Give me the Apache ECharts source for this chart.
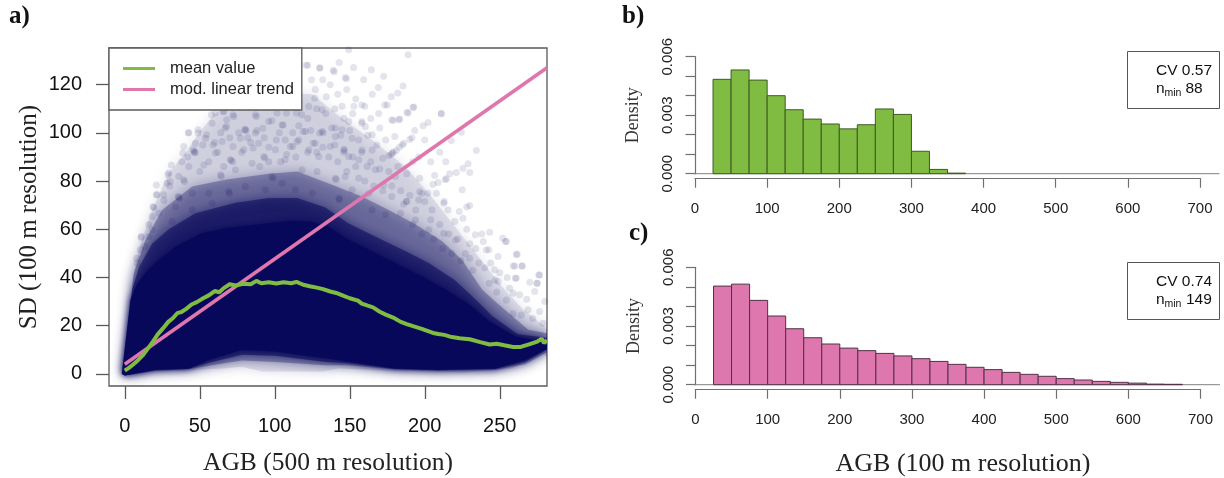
<!DOCTYPE html>
<html><head><meta charset="utf-8">
<style>html,body{margin:0;padding:0;background:#fff}#c{width:1224px;height:478px}</style>
<script src="https://cdn.jsdelivr.net/npm/echarts@6/dist/echarts.min.js"></script>
</head><body><div id="c"></div>
<script>
const navy='#08085a', green='#7FBC41', pink='#DE77AE', axisGray='#5a5a5a';
const sansFont='"Liberation Sans",Arial,sans-serif', serifFont='"Liberation Serif","Times New Roman",serif';

// panel a: mean value curve
const meanValue=[[0,1.4],[3,2.6],[5.6,3.9],[9,5.8],[12.3,7.9],[16,11],[19,13.6],[22,16.4],[25.6,19],[29,21.6],[32.2,23.2],[35,25.2],[37.8,25.7],[41,27],[44.5,28.8],[48,29.8],[52.3,31.4],[56,32.6],[60,34.4],[63,33.9],[66,35.6],[70,37.2],[74,36.7],[79,37.4],[84,37.2],[87.8,38.6],[91,37.6],[96,38],[101,37.5],[106,38],[111,37.6],[114.5,38.2],[119,37],[123.3,36.4],[128,35.8],[132.2,35.2],[137,34.2],[141,33.6],[145.5,32.5],[150,31.4],[155.5,30.4],[158,29.2],[162,28.3],[165.5,27.6],[170,25.8],[174,24.6],[178.9,23.4],[184,21.6],[188,20.7],[192.2,19.8],[198,18.7],[205.5,17],[209,16.6],[213,16.2],[218,15.3],[223.3,14.8],[230,14.4],[237,13.2],[243.3,12.2],[248,12.5],[253,11.9],[258.9,11.2],[264,11.2],[270,12.4],[275,13.4],[278,14.6],[279.5,12.8],[281.5,14]];
const linearTrend=[[0,4],[281.5,127]];

// panel a: outlines of the point cloud at decreasing density
const cloudFaint=[[-2,0],[4.9,37.6],[9.3,51.5],[18.2,68],[29.3,83.3],[40.4,91.6],[49.3,99.9],[60.4,108.2],[80,114],[100,117],[125,116],[145,106],[165,97],[187,86],[202.7,75],[220.4,61],[238,47],[251.6,36.2],[265,27],[281.5,19],[281.5,7],[278,8.6],[258,2.3],[225,.6],[209,1],[176,1.4],[142.7,2.3],[131.6,1],[107,1],[91.5,1],[78,3],[64.9,2.3],[42.7,1.5],[20.4,1],[0,-.8]];
const cloudMid=[[-1,0],[6,41.8],[13.8,55.6],[24.9,68],[44.9,77.7],[67,80.5],[96,83],[115,84],[136,79],[158,73.6],[176,68],[194,62],[211.6,55],[224.9,47.3],[238.2,35],[247,30],[269,18.3],[281.5,16.9],[281.5,9],[267,4],[247,1.6],[209,1.3],[180,1.8],[149,3.6],[133.8,3.6],[100.4,5],[78.2,5.6],[56,3.4],[42.7,1.9],[20.4,1.3],[0,-.6]];
const cloudDense=[[-1,0],[5,35],[9.3,44],[18.2,54],[29.3,60],[47,66.7],[73.8,71],[96,73],[115,73],[133.8,69],[149,62.5],[167,57],[187,51],[202.7,46],[220,39],[233.8,31],[245,24],[262,16.5],[281.5,15],[281.5,10],[267,5],[247,2],[209,1.5],[180,2],[149,4.4],[133.8,5],[100.4,7.5],[78.2,8],[56,4.6],[42.7,2.1],[20.4,1.5],[0,-.6]];
const cloudSolid=[[-2,0],[3.8,30.7],[8,37],[13.8,41.8],[22.7,47.3],[33.8,52.8],[51.6,58.4],[67,60.4],[89,62],[111.6,63.5],[125,63],[136,61],[149.3,55.6],[162.7,51.5],[180.4,45.9],[198,40.4],[213.8,35],[229,29],[242.7,22],[260.4,15.5],[273.8,14],[281.5,13.4],[281.5,10.5],[267,5.8],[247,2.3],[209,1.7],[180,2.3],[149,5.1],[133.8,6.5],[100.4,9.3],[78.2,10],[56,5.8],[42.7,2.3],[20.4,1.7],[0,-.6]];

// panel a: individually visible points
const loosePoints=[[188.9,132.4],[149.3,134.5],[142.9,129.2],[152.6,127.1],[164.4,126.2],[172.6,123.5],[130,127],[122,128],[139,126],[139.6,125.3],[147,123],[147.8,122.4],[159.3,122],[185.5,119.4],[169,118.8],[165,116],[182,116.5],[177.7,115],[173.3,111.6],[192.2,110.5],[188.2,108.5],[211,108],[183.3,105.8],[178.9,105.1],[202.2,104.3],[198.9,103],[193.3,101],[191.5,98],[190,97.2],[186,95.7],[185,95],[180,98.5],[181,92.7],[179,92],[178.4,91.6],[177.5,91],[176,90.5],[183,94],[172,89.5],[224.4,100.3],[217.7,96.8],[200,97],[234.4,92.7],[228.9,87.2],[225.5,85.3],[230,83.6],[221,83.6],[216.6,83],[214.4,81],[213.6,80.5],[208.9,79.4],[205.5,78.7],[206.6,82.3],[196.6,81.2],[225,76.4],[196.6,75.7],[198,74.8],[202,75],[207.8,75],[200,71.5],[213,71.5],[230,69.9],[228,69.2],[223,67.4],[215.5,68],[187.7,71.5],[186,70.5],[225.5,64.6],[220,63.2],[243.3,58.8],[252,56.3],
[261,49.4],[260,44.8],[264.9,44.8],[254.4,54.9],[248.9,48.7],[246.6,43.2],[261,39.7],[276.6,41],[274.9,37.6],[248.9,38.3],[256.6,35.5],[273.3,34.2],[263.3,32.8],[258.9,33.5],[254.4,30.7],[268.9,26.6],[276.6,25.9],[264.4,24.5],[272,23],[278.9,21],[258.9,25],[241,51.4],[243,37.6],[230,54],[236,46],[232,43],[238,58],
[121,128],[130,126.8],[124.5,122],[132,122],[126.7,114.4],[134.4,115],[65.6,108.9],[72.2,107.5],[57.8,107.5],[87.8,106.8],[107.8,108.2],[114.5,108.2],[42.3,99.9],[48.9,99.9],[54.5,99.2],[67.8,102.6],[80,101.3],[92,101.9],[105.6,103.3],[118.9,100.6],[130,99.9],[31,86.7],[45.6,93],[58.9,95],[72.2,94.3],[85.6,93.7],[101,97],[112,94.3],[125.6,95.7],[28.9,82.6],[21,74.3],[18.9,69.4],[21,78.4],[11,57],[35.6,73.6],
[127,118],[137,120],[142,116],[148,118],[154,114],[160,111],[128,110],[134,108],[140,110],[146,106],[152,108],[158,104],[164,106],[170,102],[122,106],[116,103],[124,101],[138,102],[144,99],[150,101],[156,97],[162,99],[168,95],[174,97],[112,100],[98,105],[103,100],[93,98],[88,101],[82,98],[76,100],[70,98],[64,100],[60,96],[52,95],[47,92],[38,88],[42,90],[78,92],[84,96],[96,94],[108,91],[116,97],[132,94],[136,90],[140,95],[146,92],[152,90],[158,92],[164,88],[170,85],[176,84],[182,86],[188,83],[192,88],[196,90],[204,88],[210,92],[214,88],[194,68],[204,64],[210,62],[216,58],[222,56],[228,60],[234,52],[192,62],[198,58],[206,56],[212,52],[218,50],[224,47],[230,48],[244,46],[250,42],[255,40],[240,44],[248,34],[268,31],[280,30],[270,38],[154,86],[160,80],[166,78],[172,76],[178,78],[184,76],[190,74],[148,84],[142,88],[128,92],[122,92],[114,90],[104,88],[96,88],[90,86],[72,88],[66,86],[56,88],[62,92],[26,72],[30,78],[36,82],[50,84],[16,62],[8,48],
[42.7,100.1],[48.9,101.3],[47,95.7],[53.8,97.8],[60.4,108.2],[66,108.9],[72.7,106.8],[58.2,104],[67,102],[80.4,101.5],[80.9,100.9],[87.1,99.9],[96,104.7],[104.9,103.3],[118,107.5],[131.6,100.6],[132.2,100],[120.4,100.6],[107,97],[114.9,96.4],[127,95.7],[46,92.3],[46.6,91.8],[39.3,94.3],[38.7,91.6],[60.4,91.6],[70.4,89],[70.9,88.5],[79.3,93],[92.7,90.2],[93.3,89.6],[107,88.8],[64.9,96.4],[77.1,97.8],[89.3,95.7],[29.3,83.3],[30.4,79.8],[39.3,80.5],[39.8,79.8],[36,73.3],[36.5,72.8],[42.7,86],[52.7,86.7],[63.8,82.6],[64.4,82],[73.8,84.7],[84.9,87.4],[98.2,81.9],[98.8,81.3],[118.2,84.7],[128.2,84],[21.6,74.3],[19.3,69],[18.2,65.3],[26,74.3],[28.2,79.1],[10.9,56.6],[16,57],[10.4,51.5],[8.2,46],[44.9,75],[56,75],[69.3,75.7],[69.8,75],[80.4,77.7],[93.8,76.4],[104.9,79.1],[113.8,76.4],[124.9,75],[33.8,69.4],[44.9,68],[58.2,70.8],[22.7,66.7],[31.5,63.2],[18.2,59.8],[13.3,52.9],[129.3,90.2],[122.7,93],[100.4,93],[110.4,94.3],[68,105.4],[87.1,107.5],[101.5,108.2],[122.7,110.9],[131.6,109.6],
[144.9,111],[152.7,111],[158,111.6],[175,111.6],[169.3,108],[182.7,105.4],[178,105.4],[188.9,108.2],[192.7,110.7],[211,107.9],[158.2,104.7],[149.3,104.7],[140.4,102],[144.9,101.3],[160.4,102.6],[164.9,99.2],[151.6,97.8],[140.4,98.5],[146,93.2],[146.5,92.7],[158.2,92.9],[164.9,92.9],[137,94.3],[149.3,90.2],[156,88.8],[161.6,86],[167,84.7],[140.4,81.2],[140.9,80.7],[147,81.9],[156,81.2],[142.7,72.9],[143.2,72.4],[151.6,76.4],[162.7,75],[172.7,78.4],[180.4,81.9],[188,71.5],[178,73.6],[164.9,68],[173.8,66],[183.8,66.7],[196,72.2],[204.9,68],[212.7,70.8],[193.8,63.9],[202.7,59.8],[212.7,58.4],[220.4,55.6],[227,50],[242.7,51.5],[239,54.9],[233.8,57.7],[247,39],[253.8,54.9],[261.6,49.8],[259,44.8],[264.9,44.8],[260.4,39.7],[276,41],[274.9,37.6]];

// panels b and c: histogram bins
const binStarts=[25,50,75,100,125,150,175,200,225,250,275,300,325,350,375,400,425,450,475,500,525,550,575,600,625,650];
const densityB=[.00484,.00532,.0048,.0040,.00328,.0028,.00255,.0023,.00251,.00332,.00304,.00115,.00022,.00003];
const densityC=[.00504,.00514,.00431,.00351,.00286,.0024,.00208,.00187,.00174,.0016,.00147,.00133,.00119,.00104,.00089,.00077,.00063,.00053,.00043,.00031,.00024,.00017,.00012,.00008,.00003,.00002];

const xTicksA=[0,50,100,150,200,250], yTicksA=[0,20,40,60,80,100,120];
const yLabelsHist=[0,.003,.006];

function cloud(outline,opacity,blur){
  return {type:'custom',coordinateSystem:'cartesian2d',xAxisIndex:0,yAxisIndex:0,silent:true,clip:true,z:2,
    data:outline,encode:{x:0,y:1},
    renderItem:(p,api)=>p.dataIndex?null:{type:'polygon',shape:{points:outline.map(d=>api.coord(d))},
      style:{fill:navy,opacity,shadowBlur:blur,shadowColor:navy}}
  };
}
function hist(idx,values,color,edge){
  return {type:'custom',coordinateSystem:'cartesian2d',xAxisIndex:idx,yAxisIndex:idx,silent:true,z:3,
    data:values.map((v,i)=>[binStarts[i],binStarts[i]+25,v]),encode:{x:[0,1],y:2},
    renderItem:(p,api)=>{
      const a=api.coord([api.value(0),api.value(2)]),b=api.coord([api.value(1),0]);
      return {type:'rect',shape:{x:a[0],y:a[1],width:b[0]-a[0],height:b[1]-a[1]},style:{fill:color,stroke:edge,lineWidth:1}};
    }};
}
function baseline(idx){
  return {type:'custom',coordinateSystem:'cartesian2d',xAxisIndex:idx,yAxisIndex:idx,silent:true,z:2,
    data:[[0,0]],encode:{x:0,y:1},
    renderItem:(p,api)=>{const a=api.coord([-2,0]),b=api.coord([727,0]);
      return {type:'line',shape:{x1:a[0],y1:a[1],x2:b[0],y2:b[1]},style:{stroke:'#808080',lineWidth:1}};}};
}
const tickStyle={color:axisGray,width:1.3};
function histX(idx,extra){
  return Object.assign({type:'value',gridIndex:idx,min:0,max:700,interval:100,offset:4.5,
    axisLine:{show:true,onZero:false,lineStyle:{color:'#707070',width:1.2}},
    axisTick:{show:true,length:9.5,lineStyle:{color:'#707070',width:1.2}},
    axisLabel:{fontFamily:sansFont,fontSize:15,color:'#222',margin:23},splitLine:{show:false}},extra||{});
}
function histY(idx){
  return {type:'value',gridIndex:idx,min:0,max:.006,interval:.001,offset:1.5,
    name:'Density',nameLocation:'middle',nameGap:51,
    nameTextStyle:{fontFamily:serifFont,fontSize:18,color:'#333'},
    axisLine:{show:true,lineStyle:{color:'#707070',width:1.2}},
    axisTick:{show:true,length:9.5,lineStyle:{color:'#707070',width:1.2}},
    axisLabel:{customValues:yLabelsHist,formatter:v=>v.toFixed(3),rotate:90,fontFamily:sansFont,fontSize:15,color:'#222',margin:18,align:'center',verticalAlign:'bottom'},
    splitLine:{show:false}};
}
function t(x,y,text,font,size,extra){
  return {type:'text',x,y,silent:true,z:20,style:Object.assign({text,fontFamily:font,fontSize:size,fill:'#111',verticalAlign:'middle'},extra||{})};
}
function box(x,y,w,h){
  return {type:'rect',shape:{x,y,width:w,height:h},silent:true,z:19,style:{fill:'#fff',stroke:'#555',lineWidth:1}};
}

const option={
  animation:false,backgroundColor:'#fff',
  legend:{show:true,orient:'vertical',left:109,top:48,z:10,
    data:['mean value','mod. linear trend'],icon:'rect',itemWidth:32,itemHeight:3,itemGap:4,
    padding:[12,8,12,14],backgroundColor:'#fff',borderColor:axisGray,borderWidth:1.3,borderRadius:0,
    textStyle:{fontFamily:sansFont,fontSize:16.5,color:'#222',padding:[0,0,0,10]},selectedMode:false},
  grid:[
    {left:109,top:48,width:438,height:338,show:true,borderColor:axisGray,borderWidth:1.3,backgroundColor:'transparent',outerBoundsMode:'none'},
    {left:695,top:56.7,width:505,height:117,outerBoundsMode:'none'},
    {left:695.5,top:267.3,width:505,height:117.4,outerBoundsMode:'none'}
  ],
  xAxis:[
    {type:'value',gridIndex:0,min:-10.5,max:281.5,
     name:'AGB (500 m resolution)',nameLocation:'middle',nameGap:64,
     nameTextStyle:{fontFamily:serifFont,fontSize:25.5,color:'#222'},
     axisLine:{show:false,onZero:false},
     axisTick:{show:true,length:13,customValues:xTicksA,lineStyle:tickStyle},
     axisLabel:{customValues:xTicksA,fontFamily:sansFont,fontSize:20,color:'#111',margin:30},splitLine:{show:false}},
    histX(1),
    histX(2,{name:'AGB (100 m resolution)',nameLocation:'middle',nameGap:62,
      nameTextStyle:{fontFamily:serifFont,fontSize:26,color:'#222',padding:[0,0,0,30]}})
  ],
  yAxis:[
    {type:'value',gridIndex:0,min:-5,max:135.2,
     name:'SD (100 m resolution)',nameLocation:'middle',nameGap:67,
     nameTextStyle:{fontFamily:serifFont,fontSize:25,color:'#222'},
     axisLine:{show:false,onZero:false},
     axisTick:{show:true,length:13,customValues:yTicksA,lineStyle:tickStyle},
     axisLabel:{customValues:yTicksA,fontFamily:sansFont,fontSize:20,color:'#111',margin:27},splitLine:{show:false}},
    histY(1),histY(2)
  ],
  series:[
    cloud(cloudFaint,.1,14),cloud(cloudMid,.3,14),cloud(cloudDense,.55,12),cloud(cloudSolid,1,6),
    {type:'scatter',xAxisIndex:0,yAxisIndex:0,data:loosePoints,symbolSize:7,silent:true,z:3,clip:true,
      itemStyle:{color:navy,opacity:.11}},
    {name:'mod. linear trend',type:'line',xAxisIndex:0,yAxisIndex:0,data:linearTrend,showSymbol:false,silent:true,z:5,
      lineStyle:{color:pink,width:3.6},itemStyle:{color:pink}},
    {name:'mean value',type:'line',xAxisIndex:0,yAxisIndex:0,data:meanValue,showSymbol:false,silent:true,z:6,clip:true,
      lineStyle:{color:green,width:4},itemStyle:{color:green}},
    baseline(1),hist(1,densityB,green,'#3f5a26'),
    baseline(2),hist(2,densityC,pink,'#503046')
  ],
  graphic:[
    t(9,17,'a)',serifFont,25,{fontWeight:'bold'}),
    t(622,17,'b)',serifFont,25,{fontWeight:'bold'}),
    t(629,234,'c)',serifFont,25,{fontWeight:'bold'}),
    box(1127.5,51.5,92,57),
    t(1156,71,'CV 0.57',sansFont,15.5),
    t(1156,89,'n',sansFont,15.5),t(1164.5,93,'min',sansFont,10.5),t(1185.5,89,'88',sansFont,15.5),
    box(1127.5,262.5,92,57),
    t(1156,282,'CV 0.74',sansFont,15.5),
    t(1156,300,'n',sansFont,15.5),t(1164.5,304,'min',sansFont,10.5),t(1186,300,'149',sansFont,15.5)
  ]
};
echarts.init(document.getElementById('c'),null,{renderer:'canvas'}).setOption(option);
</script></body></html>
